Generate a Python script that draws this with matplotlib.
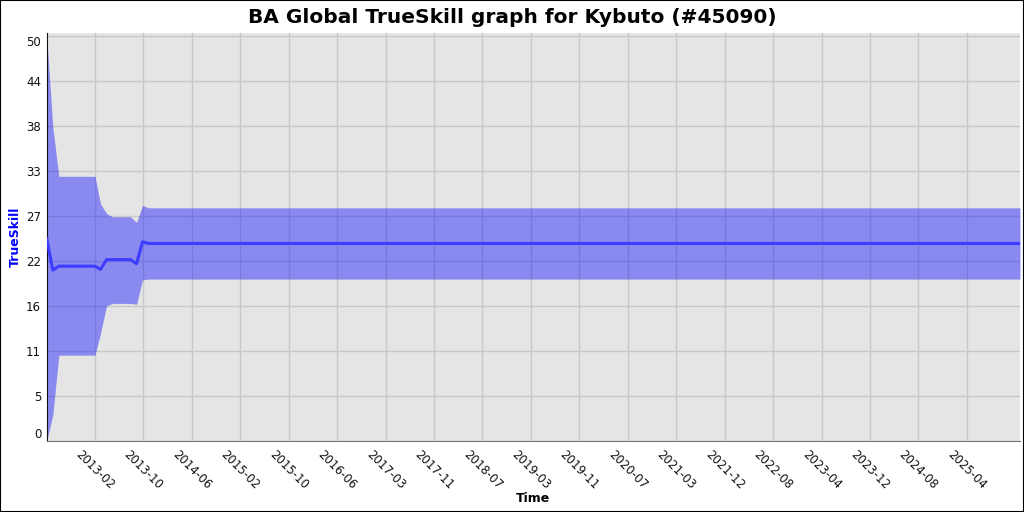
import matplotlib
matplotlib.use("Agg")
import matplotlib.pyplot as plt
from matplotlib.patches import Rectangle
import pandas as pd

# values
dates = [
    "2012-05-31", "2012-07-01", "2012-08-01", "2013-02-01", "2013-03-01",
    "2013-04-01", "2013-05-01", "2013-08-01", "2013-09-01", "2013-10-01",
    "2013-11-01", "2025-12-28",
]
mu = [25.0, 21.1, 21.6, 21.6, 21.2, 22.4, 22.4, 22.4, 21.9, 24.6, 24.4, 24.4]
upper = [50.0, 38.8, 32.7, 32.7, 29.3, 28.1, 27.7, 27.7, 27.0, 29.1, 28.8, 28.8]
lower = [0.0, 3.2, 10.6, 10.6, 13.3, 16.7, 17.0, 17.0, 16.9, 19.9, 20.0, 20.0]

tick_labels = [
    "2013-02", "2013-10", "2014-06", "2015-02", "2015-10", "2016-06",
    "2017-03", "2017-11", "2018-07", "2019-03", "2019-11", "2020-07",
    "2021-03", "2021-12", "2022-08", "2023-04", "2023-12", "2024-08",
    "2025-04",
]
y_ticks = [k * 50 / 9 for k in range(10)]

x = pd.to_datetime(dates)
# ticks sit at an even time step, first at 2013-02, last at 2025-04
tick_pos = pd.date_range("2013-02-01", "2025-04-01", periods=len(tick_labels))

fig = plt.figure(figsize=(10.24, 5.12), dpi=100)
ax = fig.add_axes([0.0456, 0.1387, 0.9505, 0.7968])
ax.set_facecolor("#e5e5e5")

ax.fill_between(x, lower, upper, color="#0000ff", alpha=0.4, linewidth=0, zorder=2)
ax.plot(x, mu, color="#3c3cff", linewidth=2.2, zorder=3)

ax.set_xlim(pd.Timestamp("2012-05-31"), pd.Timestamp("2025-12-28"))
ax.set_ylim(0, 50.4)

ax.set_xticks(tick_pos)
ax.set_xticklabels(tick_labels, rotation=-45, ha="center", fontsize=8.5)
ax.set_yticks(y_ticks)
ylabels = ax.set_yticklabels([str(int(v)) for v in y_ticks], fontsize=8.5)
ylabels[0].set_va("bottom")
ylabels[-1].set_va("top")
ax.tick_params(axis="both", length=0, colors="#111111")
ax.tick_params(axis="x", pad=5)
ax.tick_params(axis="y", pad=4)

ax.grid(True, color="#c8c8c8", linewidth=1, zorder=1)
ax.set_axisbelow(True)

for side in ["top", "right"]:
    ax.spines[side].set_visible(False)
ax.spines["left"].set_color("#111111")
ax.spines["bottom"].set_color("#777777")

fig.suptitle("BA Global TrueSkill graph for Kybuto (#45090)", fontsize=14.5,
             fontweight="bold", x=0.5, y=0.985, va="top")
ax.set_xlabel("Time", fontsize=9, fontweight="bold", labelpad=0)
ax.set_ylabel("TrueSkill", fontsize=9, fontweight="bold", color="#0000ff",
              labelpad=3)

fig.patches.append(Rectangle((0, 0), 1, 1, transform=fig.transFigure,
                             fill=False, edgecolor="black", linewidth=1.5))

fig.savefig("out.png", dpi=100)
